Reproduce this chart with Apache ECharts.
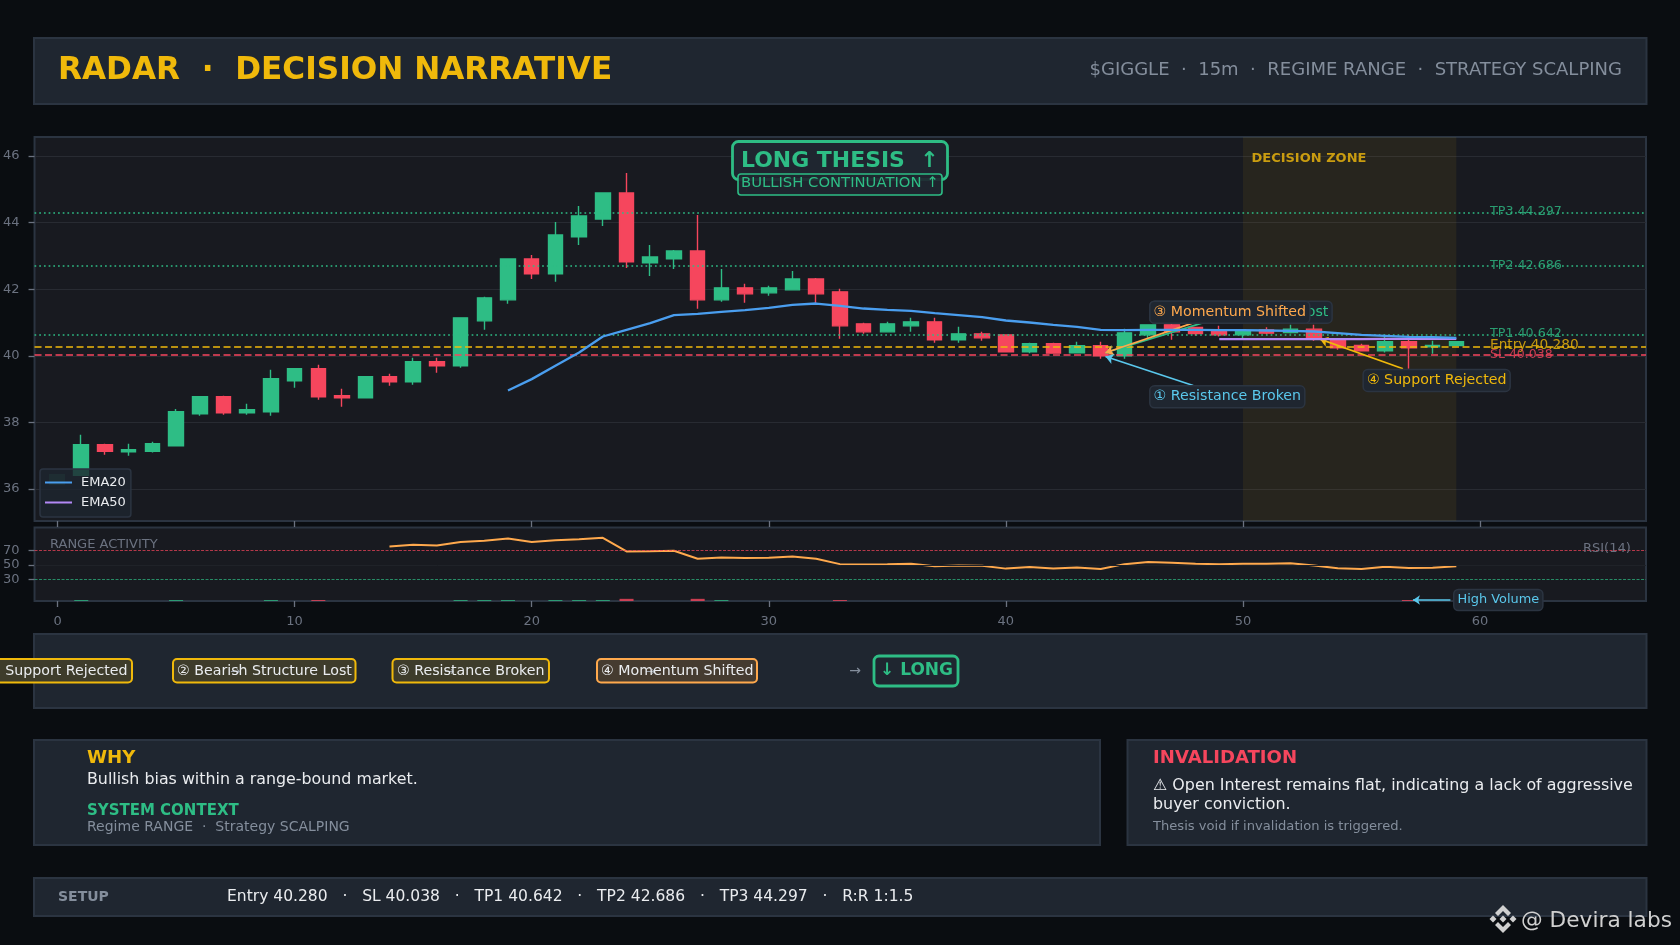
<!DOCTYPE html>
<html><head><meta charset="utf-8">
<style>html,body{margin:0;padding:0;background:#0A0D11}#c{width:1680px;height:945px}</style>
<script src="https://cdn.jsdelivr.net/npm/echarts@6/dist/echarts.min.js"></script>
</head><body><div id="c"></div>
<script>
const candleX = Array.from({length:59},(_,i)=>i+1);
const opens  = [36.41,37.33,37.12,37.13,37.30,38.26,38.77,38.29,38.32,39.25,39.61,38.80,38.74,39.37,39.22,39.82,39.70,41.05,41.68,42.91,42.46,43.57,44.11,44.89,42.79,42.91,43.15,41.68,42.04,41.89,41.98,42.31,41.92,40.96,40.72,40.90,41.02,40.48,40.66,40.63,40.12,40.36,40.09,40.30,40.00,40.63,40.93,40.85,40.73,40.63,40.78,40.70,40.80,40.50,40.31,40.15,40.42,40.27,40.31];
const closes = [37.33,37.13,37.18,37.36,38.32,38.77,38.29,38.38,39.31,39.61,38.77,38.74,39.37,39.22,39.82,39.70,41.14,41.74,42.91,42.46,43.63,44.20,44.89,42.82,42.97,43.15,41.68,42.04,41.86,42.04,42.31,41.86,40.90,40.72,40.96,41.02,40.48,40.66,40.54,40.12,40.36,40.08,40.30,40.00,40.69,40.93,40.72,40.67,40.63,40.73,40.68,40.80,40.50,40.24,40.15,40.42,40.24,40.31,40.42];
const lows   = [36.40,37.03,37.00,37.10,37.30,38.20,38.23,38.23,38.20,39.04,38.68,38.47,38.74,39.10,39.13,39.49,39.64,40.78,41.56,42.31,42.22,43.33,43.90,42.64,42.40,42.61,41.41,41.62,41.59,41.80,41.98,41.59,40.51,40.66,40.72,40.72,40.39,40.39,40.45,40.12,40.08,40.08,40.09,39.91,39.91,40.54,40.48,40.60,40.58,40.48,40.65,40.67,40.45,40.18,40.15,40.10,39.61,40.06,40.31];
const highs  = [37.63,37.36,37.36,37.42,38.40,38.77,38.80,38.56,39.58,39.61,39.73,39.01,39.37,39.46,39.94,39.94,41.14,41.77,42.91,43.03,44.02,44.50,44.89,45.49,43.33,43.18,44.23,42.61,42.16,42.10,42.55,42.34,42.01,40.99,41.02,41.14,41.14,40.87,40.72,40.63,40.39,40.39,40.42,40.42,40.81,40.93,40.96,40.85,40.90,40.75,40.86,40.93,40.93,40.50,40.36,40.63,40.63,40.45,40.42];
const ema20Start = 19;
const ema20 = [38.96,39.30,39.70,40.10,40.58,40.78,40.98,41.22,41.26,41.32,41.37,41.44,41.53,41.57,41.50,41.42,41.38,41.35,41.28,41.22,41.16,41.06,41.00,40.93,40.87,40.78,40.77,40.78,40.78,40.78,40.77,40.77,40.76,40.75,40.73,40.68,40.63,40.60,40.57,40.56,40.54];
const ema50Start = 49;
const ema50 = [40.50,40.50,40.50,40.50,40.50,40.50,40.50,40.51,40.51,40.51,40.51];
const rsiStart = 14;
const rsi = [75.5,77.8,76.9,81.5,83.3,86.5,81.5,84.2,85.6,87.5,68.6,69.0,69.5,58.5,60.3,59.4,60.0,61.7,58.5,51.0,50.5,51.0,51.6,48.0,49.0,48.7,44.8,47.0,44.8,46.5,44.2,51.0,54.0,53.0,51.6,50.7,51.6,51.4,52.3,49.0,45.3,44.2,47.5,45.7,46.0,48.2];
const volX = [1,5,9,11,17,18,19,21,22,23,24,27,28,33,57];
const volValues = [1.3,1.3,1.3,1.3,1.3,1.3,1.3,1.3,1.3,1.3,3,3,1.3,1.3,1.3];
const levelNames = ['TP3','TP2','TP1','Entry','SL'];
const levelValues = [44.297,42.686,40.642,40.280,40.038];
const priceTicks = [36,38,40,42,44,46];
const rsiTicks = [30,50,70];
const xTicks = [0,10,20,30,40,50,60];

const UP='#2EBD85',DOWN='#F6465D',GOLD='#F0B90B',ORANGE='#FFA94D',CYAN='#5AC8EC',TXT='#EAECEF',GREY='#848E9C',AXIS='#6B7280',PANEL='#1F2630',EDGE='#2B3441',PLOT='#181A20';
const FONT='"DejaVu Sans"';
const levelColors=[UP,UP,UP,GOLD,DOWN];
const levelFont=[12.7,12.7,12.7,13.7,12.5];
const fmt=v=>v.toFixed(3);

const annotations=[
 {name:'② Bearish Structure Lost',at:[46.08,41.31],color:UP,from:[48.3,40.99],to:[44.2,40.09],arrow:UP},
 {name:'③ Momentum Shifted',at:[46.08,41.31],color:ORANGE,from:[47.9,40.99],to:[44.2,40.09],arrow:ORANGE},
 {name:'① Resistance Broken',at:[46.08,38.77],color:CYAN,from:[47.9,39.11],to:[44.2,39.98],arrow:CYAN},
 {name:'④ Support Rejected',at:[55.08,39.26],color:GOLD,from:[56.75,39.61],to:[53.25,40.5],arrow:GOLD}
];

function rect(x,y,w,h,fill,stroke,lw,r,z){return {type:'rect',silent:true,z:z||1,shape:{x,y,width:w,height:h,r:r||0},style:{fill:fill,stroke:stroke||null,lineWidth:lw||0}};}
function text(s,x,y,size,color,weight,align,z){return {type:'text',silent:true,z:z||5,style:{text:s,x,y,fill:color,font:(weight||'normal')+' '+size+'px '+FONT,textAlign:align||'left',textVerticalAlign:'middle'}};}
function poly(points,fill,z){return {type:'polygon',silent:true,z:z||9,shape:{points},style:{fill}};}
function panel(x,y,x2,y2){return rect(x+1,y+1,x2-x-2,y2-y-2,PANEL,EDGE,2,0,1);}
function pill(x,x2,label,tx,stroke,fill){return [rect(x,659,x2-x,23.5,fill,stroke,2,4,3),text(label,tx,671.5,14.2,TXT,'normal','left',5)];}

const cx=1503,cy=919,wm='#D0D0D0';
const graphicEls=[
 panel(33,37,1647.5,105),
 text('RADAR  ·  DECISION NARRATIVE',58,71,31.15,GOLD,'bold'),
 text('$GIGGLE  ·  15m  ·  REGIME RANGE  ·  STRATEGY SCALPING',1622,70.5,18.02,GREY,'normal','right'),
 panel(33,633,1647.5,709),
 ...pill(-30,132,'① Support Rejected',-12,GOLD,'#3E3C2B'),
 ...pill(173,355.5,'② Bearish Structure Lost',177,GOLD,'#3E3C2B'),
 ...pill(392.5,549,'③ Resistance Broken',397,GOLD,'#3E3C2B'),
 ...pill(597,757,'④ Momentum Shifted',601,ORANGE,'#453B30'),
 text('→',235,671.5,12,'#9aa0a8','normal','center',4),
 text('→',449,671.5,12,'#9aa0a8','normal','center',4),
 text('→',650,671.5,12,'#9aa0a8','normal','center',4),
 text('→',855,671,14,GREY,'normal','center'),
 rect(874,656,84,30,PANEL,UP,2.8,5,3),
 text('↓ LONG',880,671,17,UP,'bold'),
 panel(33,739,1101,846),
 text('WHY',87,758,18.2,GOLD,'bold'),
 text('Bullish bias within a range-bound market.',87,780,15.85,TXT),
 text('SYSTEM CONTEXT',87,811,15,UP,'bold'),
 text('Regime RANGE  ·  Strategy SCALPING',87,827.5,14,GREY),
 panel(1126.5,739,1647.5,846),
 text('INVALIDATION',1153,758,18.1,DOWN,'bold'),
 text('⚠ Open Interest remains flat, indicating a lack of aggressive',1153,786,15.9,TXT),
 text('buyer conviction.',1153,805,15.9,TXT),
 text('Thesis void if invalidation is triggered.',1153,826.5,13.1,GREY),
 panel(33,877,1647.5,917),
 text('SETUP',58,897,14,GREY,'bold'),
 text('Entry 40.280   ·   SL 40.038   ·   TP1 40.642   ·   TP2 42.686   ·   TP3 44.297   ·   R:R 1:1.5',227,897,15.54,TXT),
 rect(732.5,141.5,215,38,PANEL,UP,2.8,6,6),
 text('LONG THESIS  ↑',741,161,21.95,UP,'bold','left',7),
 rect(738,174,204,21,'rgba(31,38,48,0.92)',UP,1.6,3,7),
 text('BULLISH CONTINUATION ↑',741,183.5,14.8,UP,'normal','left',8),
 rect(49,474,16,11,'#1F4A3F',null,0,0,3),
 text('RANGE ACTIVITY',50,545,13,AXIS,'normal','left',6),
 text('RSI(14)',1583,549,13,AXIS,'normal','left',6),
 poly([[cx,905],[cx+8,913],[cx+5,916],[cx,911],[cx-5,916],[cx-8,913]],wm),
 poly([[cx,933],[cx+8,925],[cx+5,922],[cx,927],[cx-5,922],[cx-8,925]],wm),
 poly([[cx-13.5,919],[cx-10,915.5],[cx-6.5,919],[cx-10,922.5]],wm),
 poly([[cx+13.5,919],[cx+10,915.5],[cx+6.5,919],[cx+10,922.5]],wm),
 poly([[cx,915.5],[cx+3.5,919],[cx,922.5],[cx-3.5,919]],wm),
 text('@ Devira labs',1521,921,21.7,wm,'normal','left',9)
];

const axisLabelStyle={color:AXIS,fontFamily:FONT,fontSize:13};
const tickLine={show:true,length:6,lineStyle:{color:AXIS,width:1.3}};

const option={
 animation:false,
 backgroundColor:'#0A0D11',
 textStyle:{fontFamily:FONT},
 legend:{show:true,left:40,top:469,orient:'vertical',data:['EMA20','EMA50'],icon:'rect',itemWidth:27,itemHeight:2,itemGap:7,padding:[7,5,8,5],
   backgroundColor:'rgba(30,37,47,0.8)',borderColor:EDGE,borderWidth:1.5,borderRadius:3,textStyle:{color:TXT,fontFamily:FONT,fontSize:13,padding:[0,0,0,4]},z:5,selectedMode:false},
 grid:[
  {left:34,right:34,top:137,height:384,show:true,backgroundColor:PLOT,borderColor:EDGE,borderWidth:2},
  {left:34,right:34,top:527.5,height:73.5,show:true,backgroundColor:PLOT,borderColor:EDGE,borderWidth:2}
 ],
 xAxis:[
  {type:'value',gridIndex:0,min:-0.97,max:67,axisLine:{show:false,onZero:false},splitLine:{show:false},axisTick:{...tickLine,customValues:xTicks},axisLabel:{show:false,customValues:xTicks}},
  {type:'value',gridIndex:1,min:-0.97,max:67,axisLine:{show:false,onZero:false},splitLine:{show:false},axisTick:{...tickLine,customValues:xTicks},axisLabel:{...axisLabelStyle,customValues:xTicks,margin:14,formatter:v=>String(v)}}
 ],
 yAxis:[
  {type:'value',gridIndex:0,min:35.04,max:46.57,axisLine:{show:false,onZero:false},axisTick:{...tickLine,customValues:priceTicks},axisLabel:{...axisLabelStyle,customValues:priceTicks,margin:15,padding:[5,0,0,0],formatter:v=>String(v)},splitLine:{show:true,lineStyle:{color:'#282B32',width:1.2}}},
  {type:'value',gridIndex:1,min:0,max:101.7,axisLine:{show:false,onZero:false},axisTick:{...tickLine,customValues:rsiTicks},axisLabel:{...axisLabelStyle,customValues:rsiTicks,margin:15,padding:[3,0,0,0],formatter:v=>String(v)},splitLine:{show:false}}
 ],
 series:[
  {name:'Candles',type:'candlestick',xAxisIndex:0,yAxisIndex:0,z:3,barWidth:15,
   data:candleX.map((x,i)=>[x,opens[i],closes[i],lows[i],highs[i]]),
   itemStyle:{color:UP,color0:DOWN,borderColor:UP,borderColor0:DOWN,borderWidth:1.4},
   markArea:{silent:true,z:1,itemStyle:{color:'rgba(240,185,11,0.07)'},
     label:{show:true,position:[8.5,15],color:'#C99C10',fontWeight:'bold',fontSize:13,fontFamily:FONT},
     data:[[{name:'DECISION ZONE',xAxis:50},{xAxis:59}]]}},
  {name:'Levels',type:'line',xAxisIndex:0,yAxisIndex:0,z:4,data:[],symbol:'none',silent:true,
   markLine:{silent:true,symbol:'none',animation:false,label:{show:false},
    data:levelValues.map((v,i)=>({yAxis:v,lineStyle:{color:levelColors[i],width:i<3?1.7:1.6,type:i<3?[1.7,3]:[7,3.5],opacity:1}}))}},
  {name:'EMA20',type:'line',xAxisIndex:0,yAxisIndex:0,z:6,symbol:'none',color:'#4A9EEF',lineStyle:{width:2.3,color:'#4A9EEF'},data:ema20.map((v,i)=>[i+ema20Start,v])},
  {name:'EMA50',type:'line',xAxisIndex:0,yAxisIndex:0,z:5,symbol:'none',color:'#B388F5',lineStyle:{width:2.3,color:'#B388F5'},data:ema50.map((v,i)=>[i+ema50Start,v])},
  {name:'LevelLabels',type:'scatter',xAxisIndex:0,yAxisIndex:0,z:5,symbolSize:1,itemStyle:{opacity:0},silent:true,
   data:levelValues.map((v,i)=>({value:[60.4,v],label:{show:true,position:'right',distance:0,offset:[0,i===4?0:-1],color:levelColors[i],opacity:0.8,fontFamily:FONT,fontSize:levelFont[i],formatter:levelNames[i]+' '+fmt(v)}}))},
  {name:'Arrows',type:'line',xAxisIndex:0,yAxisIndex:0,z:7,data:[],symbol:'none',silent:true,
   markLine:{silent:true,symbol:['none','arrow'],symbolSize:8,animation:false,label:{show:false},
    data:annotations.map(a=>[{coord:a.from,lineStyle:{color:a.arrow,width:1.7,type:'solid',opacity:1}},{coord:a.to}])}},
  {name:'Annotations',type:'scatter',xAxisIndex:0,yAxisIndex:0,z:8,symbolSize:1,itemStyle:{opacity:0},silent:true,labelLayout:{hideOverlap:false},
   data:annotations.map((a)=>({value:a.at,label:{show:true,opacity:1,position:'right',distance:0,color:a.color,fontFamily:FONT,fontSize:14.2,backgroundColor:'#1F2630',borderColor:EDGE,borderWidth:1.5,borderRadius:4,padding:[3.5,3,3,3],formatter:a.name}}))},
  {name:'Volume',type:'bar',xAxisIndex:1,yAxisIndex:1,z:2,barWidth:14,silent:true,
   data:volX.map((x,i)=>({value:[x,volValues[i]],itemStyle:{color:closes[x-1]>=opens[x-1]?UP:DOWN,opacity:0.8}}))},
  {name:'RSI',type:'line',xAxisIndex:1,yAxisIndex:1,z:4,symbol:'none',lineStyle:{width:2,color:ORANGE},data:rsi.map((v,i)=>[i+rsiStart,v]),
   markLine:{silent:true,symbol:'none',animation:false,label:{show:false},
    data:[{yAxis:70,lineStyle:{color:DOWN,width:1,type:[3,1.5],opacity:0.7}},{yAxis:30,lineStyle:{color:UP,width:1,type:[3,1.5],opacity:0.7}},{yAxis:50,lineStyle:{color:'#1F2228',width:1,type:'solid',opacity:1}}]}},
  {name:'HighVolArrow',type:'line',xAxisIndex:1,yAxisIndex:1,z:6,data:[],symbol:'none',silent:true,
   markLine:{silent:true,symbol:['none','arrow'],symbolSize:7,animation:false,label:{show:false},
    data:[[{coord:[58.75,1.4],lineStyle:{color:CYAN,width:1.5,type:'solid',opacity:1}},{coord:[57.17,1.4]}]]}},
  {name:'HighVolLabel',type:'scatter',xAxisIndex:1,yAxisIndex:1,z:7,symbolSize:1,itemStyle:{opacity:0},silent:true,
   data:[{value:[58.9,1.4],label:{show:true,opacity:1,position:'right',distance:0,color:CYAN,fontFamily:FONT,fontSize:12.9,backgroundColor:'#1F2630',borderColor:EDGE,borderWidth:1.5,borderRadius:4,padding:[3.5,3,3,3],formatter:'High Volume'}}]}
 ],
 graphic:{elements:graphicEls}
};
const chart=echarts.init(document.getElementById('c'),null,{width:1680,height:945,renderer:'canvas'});
chart.setOption(option);
</script></body></html>
